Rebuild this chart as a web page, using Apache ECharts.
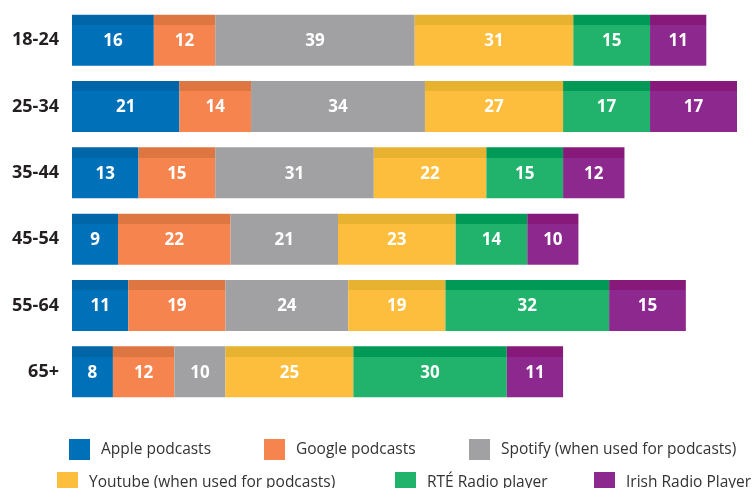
<!DOCTYPE html>
<html>
<head>
<meta charset="utf-8">
<script src="https://cdn.jsdelivr.net/npm/echarts@6/dist/echarts.min.js"></script>
<style>
  html, body { margin: 0; padding: 0; background: #fff; }
  #chart { width: 752px; height: 488px; }
</style>
</head>
<body>
<div id="chart"></div>
<script>
const categories = ["18-24", "25-34", "35-44", "45-54", "55-64", "65+"];
const seriesNames = [
  "Apple podcasts",
  "Google podcasts",
  "Spotify (when used for podcasts)",
  "Youtube (when used for podcasts)",
  "RTÉ Radio player",
  "Irish Radio Player"
];
const apple = [16, 21, 13, 9, 11, 8];
const google = [12, 14, 15, 22, 19, 12];
const spotify = [39, 34, 31, 21, 24, 10];
const youtube = [31, 27, 22, 23, 19, 25];
const rte = [15, 17, 15, 14, 32, 30];
const irish = [11, 17, 12, 10, 15, 11];

const values = [apple, google, spotify, youtube, rte, irish];
const colors = ["#0071b9", "#f5844e", "#a1a1a3", "#fdbd3d", "#21b36c", "#8d288f"];
const topColors = ["#0066a7", "#de7641", "#a1a1a3", "#e7b22f", "#009a56", "#87197a"];

// legend positions, one legend per item
const legendPos = [
  { left: 69, top: 439 },
  { left: 264, top: 439 },
  { left: 469, top: 439 },
  { left: 57, top: 472 },
  { left: 395, top: 472 },
  { left: 594, top: 472 }
];

const chart = echarts.init(document.getElementById("chart"));

const option = {
  animation: false,
  grid: { left: 72, top: 7, width: 665, height: 398 },
  xAxis: { type: "value", min: 0, max: 130, show: false },
  yAxis: {
    type: "category",
    data: categories,
    inverse: true,
    axisLine: { show: false },
    axisTick: { show: false },
    axisLabel: {
      margin: 13,
      color: "#231f20",
      fontFamily: "Open Sans",
      fontWeight: "bold",
      fontSize: 18
    }
  },
  legend: legendPos.map((p, i) => ({
    left: p.left,
    top: p.top,
    padding: 0,
    icon: "rect",
    itemWidth: 21,
    itemHeight: 21,
    selectedMode: false,
    data: [{ name: seriesNames[i], itemStyle: { color: colors[i] } }],
    textStyle: {
      color: "#333",
      fontFamily: "Open Sans",
      fontSize: 15.5,
      padding: [0, 0, 0, 6]
    }
  })),
  series: values.map((v, i) => ({
    name: seriesNames[i],
    type: "bar",
    stack: "total",
    barWidth: 51,
    data: v,
    itemStyle: {
      color: new echarts.graphic.LinearGradient(0, 0, 0, 1, [
        { offset: 0, color: topColors[i] },
        { offset: 0.2, color: topColors[i] },
        { offset: 0.2, color: colors[i] },
        { offset: 1, color: colors[i] }
      ])
    },
    label: {
      show: true,
      position: "inside",
      color: "#fff",
      fontFamily: "Open Sans",
      fontWeight: "bold",
      fontSize: 17,
      offset: [0, 1]
    }
  }))
};

chart.setOption(option);
</script>
</body>
</html>
